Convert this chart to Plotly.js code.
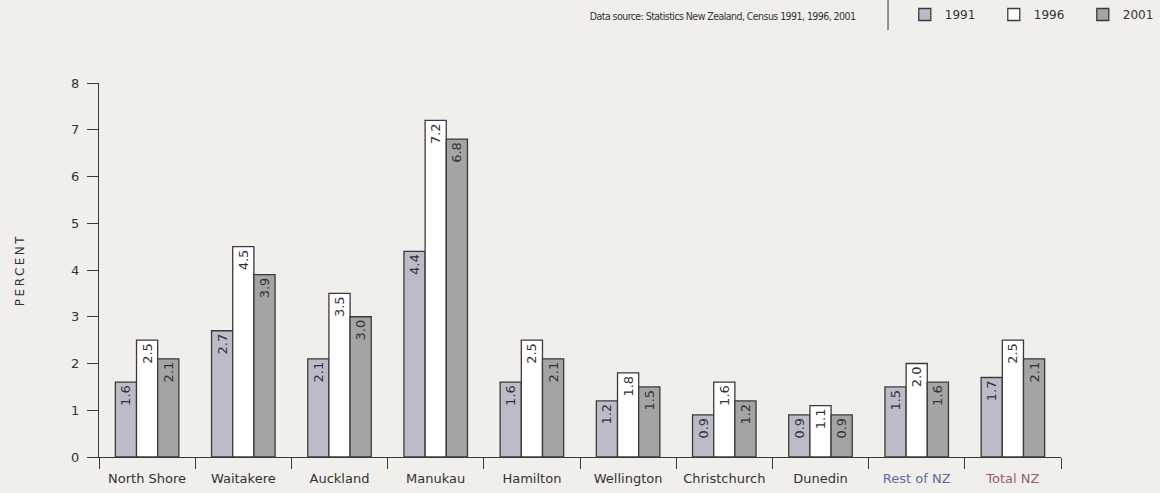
<!DOCTYPE html>
<html>
<head>
<meta charset="utf-8">
<script src="https://cdn.plot.ly/plotly-3.0.1.min.js"></script>
<style>
  html, body { margin: 0; padding: 0; background: #f0efeb; }
  #chart { width: 1160px; height: 493px; }
</style>
</head>
<body>
<div id="chart"></div>
<script>
// Area names and their axis labels (the last two are coloured)
const areas = ['North Shore', 'Waitakere', 'Auckland', 'Manukau', 'Hamilton',
               'Wellington', 'Christchurch', 'Dunedin', 'Rest of NZ', 'Total NZ'];
const areaLabels = ['North Shore', 'Waitakere', 'Auckland', 'Manukau', 'Hamilton',
                    'Wellington', 'Christchurch', 'Dunedin',
                    '<span style="color:#5b6b9e">Rest of NZ</span>',
                    '<span style="color:#9c5a74">Total NZ</span>'];

// Percent values by census year
const pct1991 = [1.6, 2.7, 2.1, 4.4, 1.6, 1.2, 0.9, 0.9, 1.5, 1.7];
const pct1996 = [2.5, 4.5, 3.5, 7.2, 2.5, 1.8, 1.6, 1.1, 2.0, 2.5];
const pct2001 = [2.1, 3.9, 3.0, 6.8, 2.1, 1.5, 1.2, 0.9, 1.6, 2.1];

const yTicks = [0, 1, 2, 3, 4, 5, 6, 7, 8];

const FONT = 'DejaVu Sans, Verdana, sans-serif';
const NARROW = 'DejaVu Sans Condensed, DejaVu Sans, sans-serif';
const INK = '#333333';
const EDGE = '#3a3a3a';

function series(name, values, fill) {
  return {
    type: 'bar',
    name: name,
    x: areas,
    y: values,
    text: values.map(v => v.toFixed(1)),
    textposition: 'inside',
    insidetextanchor: 'end',
    textangle: -90,
    insidetextfont: { family: FONT, size: 13, color: INK },
    marker: { color: fill, line: { color: EDGE, width: 1.3 } },
    hoverinfo: 'x+y'
  };
}

const data = [
  series('1991', pct1991, '#bcbcc8'),
  series('1996', pct1996, '#ffffff'),
  series('2001', pct2001, '#a4a4a4')
];

const layout = {
  width: 1160,
  height: 493,
  paper_bgcolor: '#f0efeb',
  plot_bgcolor: '#f0efeb',
  font: { family: FONT, size: 12, color: INK },
  margin: { l: 99, r: 99, t: 83, b: 36 },
  barmode: 'group',
  bargap: 0.34,
  bargroupgap: 0,
  showlegend: true,
  legend: {
    orientation: 'h',
    xref: 'container', yref: 'container',
    x: 0.780, y: 1.0, xanchor: 'left', yanchor: 'top',
    bgcolor: 'rgba(0,0,0,0)',
    font: { family: FONT, size: 12, color: INK },
    entrywidth: 44,
    traceorder: 'normal'
  },
  xaxis: {
    type: 'category',
    tickmode: 'array',
    tickvals: areas,
    ticktext: areaLabels,
    tickson: 'boundaries',
    ticks: 'outside',
    ticklen: 11,
    tickwidth: 1,
    tickcolor: EDGE,
    ticklabelstandoff: 9,
    showline: true,
    linecolor: EDGE,
    linewidth: 1,
    showgrid: false,
    zeroline: false,
    tickfont: { family: FONT, size: 13, color: INK },
    fixedrange: true
  },
  yaxis: {
    range: [0, 8],
    tickmode: 'array',
    tickvals: yTicks,
    ticktext: yTicks.map(String),
    ticks: 'outside',
    ticklen: 11,
    tickwidth: 1,
    tickcolor: EDGE,
    ticklabelstandoff: 5,
    showline: true,
    linecolor: EDGE,
    linewidth: 1,
    showgrid: false,
    zeroline: false,
    tickfont: { family: FONT, size: 13, color: INK },
    title: { text: 'PERCENT', font: { family: FONT, size: 12, color: INK }, standoff: 43 },
    fixedrange: true
  },
  shapes: [
    {
      // divider between the source note and the legend
      type: 'line', xref: 'paper', yref: 'paper',
      x0: 0.8202, x1: 0.8202, y0: 1.222, y1: 1.142,
      line: { color: '#555555', width: 1.2 }
    }
  ],
  annotations: [
    {
      text: 'Data source: Statistics New Zealand, Census 1991, 1996, 2001',
      xref: 'paper', yref: 'paper',
      x: 0.787, y: 1.179, xanchor: 'right', yanchor: 'middle',
      showarrow: false,
      font: { family: NARROW, size: 10.5, color: INK }
    }
  ]
};

Plotly.newPlot('chart', data, layout, { displayModeBar: false, staticPlot: true }).then(() => {
  // spaced capitals for the axis title
  const t = document.querySelector('.ytitle');
  if (t) t.style.letterSpacing = '2.5px';
  // tighten the source note and keep its right edge next to the divider
  const note = document.querySelector('.annotation-text');
  if (note) {
    note.style.letterSpacing = '-0.55px';
    const shift = 856 - note.getBoundingClientRect().right;
    note.setAttribute('transform', 'translate(' + shift + ',0)');
  }
});
</script>
</body>
</html>
